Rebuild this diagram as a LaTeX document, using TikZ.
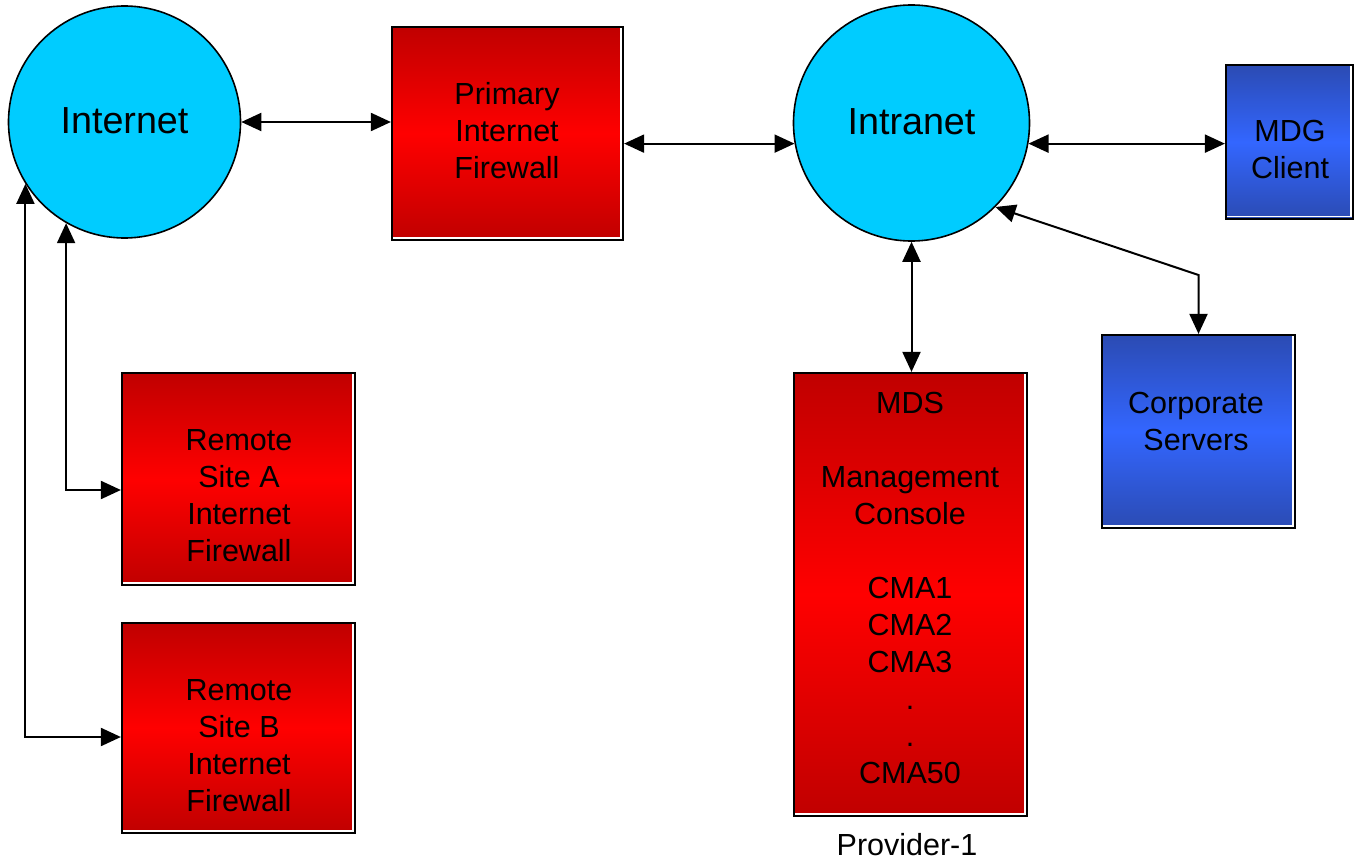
\documentclass[tikz,border=0pt]{standalone}
\usepackage{fontspec}
\setmainfont{Liberation Sans}
\usetikzlibrary{arrows.meta}
\definecolor{rdark}{HTML}{C00000}
\definecolor{rmid}{HTML}{FF0000}
\definecolor{bdark}{HTML}{2B4BB3}
\definecolor{bmid}{HTML}{3366FF}
\definecolor{cloudc}{HTML}{00CCFF}
\tikzset{
  boxbase/.style={rectangle, draw=black, line width=2.2pt, inner sep=0pt,
    path picture={\draw[white,line width=1.4pt]
      ([xshift=-2.2pt]path picture bounding box.north east) --
      ([xshift=-2.2pt,yshift=2.2pt]path picture bounding box.south east) --
      ([yshift=2.2pt]path picture bounding box.south west);}},
  redbox/.style={boxbase, top color=rdark, bottom color=rdark, middle color=rmid},
  bluebox/.style={boxbase, top color=bdark, bottom color=bdark, middle color=bmid},
  cloud/.style={circle, draw=black, line width=1.6pt, fill=cloudc, inner sep=0pt,
    font=\fontsize{37.7}{42}\selectfont},
  lbl/.style={align=center, inner sep=0pt, font=\fontsize{30.5}{37}\selectfont},
  biarrow/.style={line width=2pt, {Triangle[length=20pt,width=18pt]}-{Triangle[length=20pt,width=18pt]}},
}
\begin{document}
\begin{tikzpicture}[x=1pt,y=-1pt]
\useasboundingbox (0,0) rectangle (1357,861);
% clouds
\node[cloud, minimum size=232pt] (inet) at (124.5,122) {\raisebox{3.5pt}{Internet}};
\node[cloud, minimum size=236pt] (intra) at (911.5,123) {\raisebox{3.5pt}{Intranet}};
% boxes
\node[redbox, minimum width=231pt, minimum height=213pt] (pfw) at (507.5,133.5) {};
\node[lbl] (pfwt) at (507,131) {Primary\\Internet\\Firewall};
\node[bluebox, minimum width=127pt, minimum height=154pt] (mdg) at (1289.5,142) {};
\node[lbl] (mdgt) at (1290,150) {MDG\\Client};
\node[bluebox, minimum width=193pt, minimum height=193pt] (corp) at (1198.5,431.5) {};
\node[lbl] (corpt) at (1196,421) {Corporate\\Servers};
\node[redbox, minimum width=233pt, minimum height=443pt] (mds) at (910.5,594.5) {};
\node[lbl] (mdst) at (910,588) {MDS\\[37pt]Management\\Console\\[37pt]CMA1\\CMA2\\CMA3\\.\\.\\CMA50};
\node[redbox, minimum width=233pt, minimum height=212pt] (ra) at (238.5,479) {};
\node[lbl] (rat) at (239,496) {Remote\\Site A\\Internet\\Firewall};
\node[redbox, minimum width=233pt, minimum height=210pt] (rb) at (238.5,728) {};
\node[lbl] (rbt) at (239,746) {Remote\\Site B\\Internet\\Firewall};
\node[lbl] (prov) at (907,845) {Provider-1};
% connectors
\draw[biarrow] (inet.east) -- (inet.east -| pfw.west);
\draw[biarrow] (pfw.east |- intra.190.7) -- (intra.190.7);
\draw[biarrow] (intra.-10.7) -- (intra.-10.7 -| mdg.west);
\draw[biarrow] (intra.south) -- (intra.south |- mds.north);
\coordinate (bend) at (1198.5,275);
\draw[biarrow] (intra.-45) -- (bend) -- (corp.north);
\draw[biarrow] (inet.-120.3) |- ([yshift=-11pt]ra.west);
\draw[biarrow] (inet.-148.1) |- ([yshift=-9pt]rb.west);
\end{tikzpicture}
\end{document}
